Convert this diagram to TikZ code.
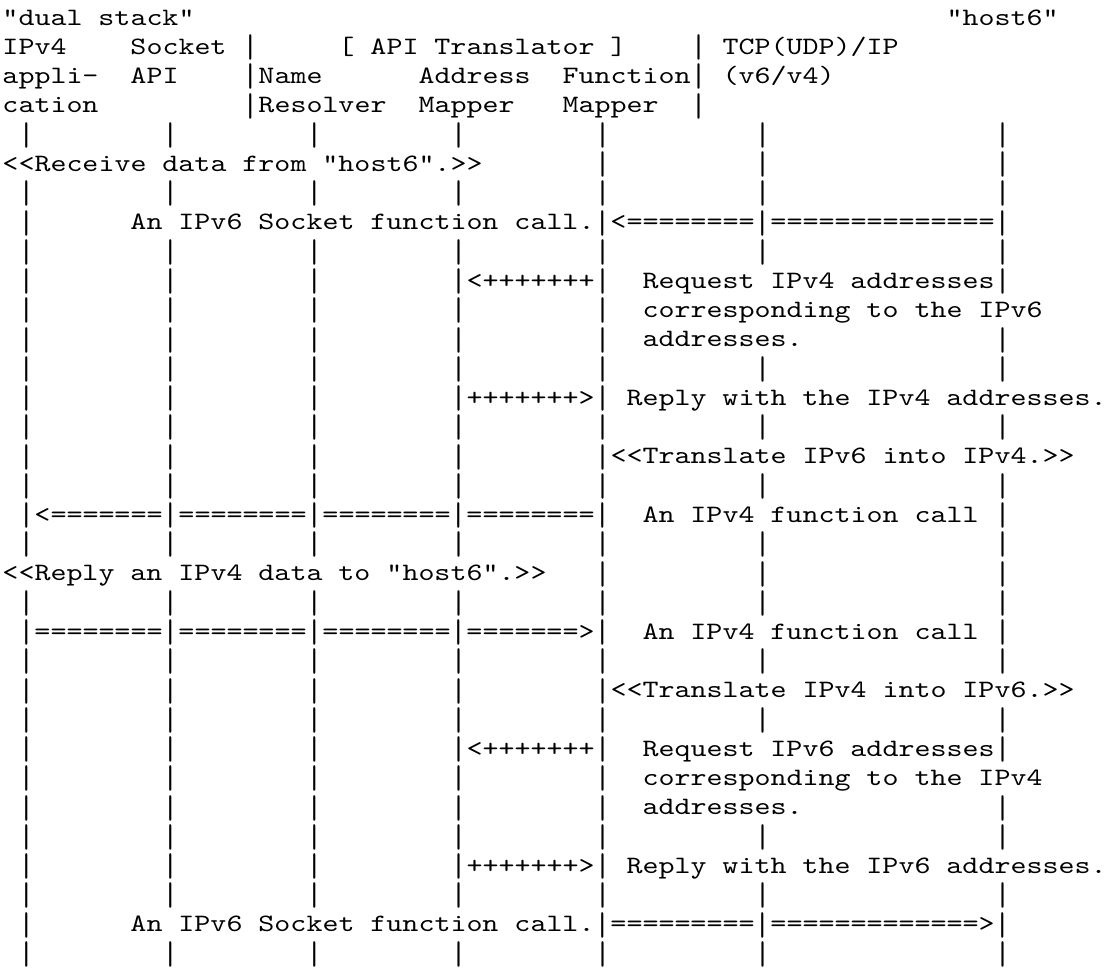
\documentclass[tikz,border=0pt]{standalone}
\usepackage{fontspec}
\usepackage{graphicx}
\newfontfamily\asciifont{lmmono10-regular.otf}[FakeStretch=1.22]
\newlength\cellw
\setlength\cellw{16pt}
\def\stopc{\stopc}
% the "|" glyph, stretched to the height of the reference bar
\newcommand\tallbar{\raisebox{-6pt}{\resizebox*{\width}{25.5pt}{\raisebox{\depth}{|}}}}
\def\chars#1{\ifx#1\stopc\else
  \ifx#1|\makebox[\cellw]{\tallbar}\else\makebox[\cellw]{#1}\fi
  \expandafter\chars\fi}
\tikzset{
  txt/.style={anchor=base west, inner sep=0pt, outer sep=0pt,
    font=\asciifont\fontsize{25}{29.25}\selectfont}
}
% one run of characters, starting at column #2 of row #1
\newcommand\seg[3]{\node[txt] (r#1c#2) at ({2.5+#2*16},{-25-(#1-1)*29.25}) {\chars#3\stopc};}
% lifeline bars of row #1 at the listed columns
\newcommand\barsat[2]{\foreach \cc in {#2}{\seg{#1}{\cc}{|}}}
\newcommand\allbars[1]{\barsat{#1}{1,10,19,28,37,47,62}}
\begin{document}
\begin{tikzpicture}[x=1pt,y=1pt]
\path[fill=white] (0,0) rectangle (1107,-967);
\useasboundingbox (0,0) rectangle (1107,-967);
% header
\seg{1}{0}{"dual~stack"}
\seg{1}{59}{"host6"}
\seg{2}{0}{IPv4}
\seg{2}{8}{Socket}
\seg{2}{15}{|}
\seg{2}{21}{[~API~Translator~]}
\seg{2}{43}{|}
\seg{2}{45}{TCP(UDP)/IP}
\seg{3}{0}{appli-}
\seg{3}{8}{API}
\seg{3}{15}{|Name}
\seg{3}{26}{Address}
\seg{3}{35}{Function|}
\seg{3}{45}{(v6/v4)}
\seg{4}{0}{cation}
\seg{4}{15}{|Resolver}
\seg{4}{26}{Mapper}
\seg{4}{35}{Mapper}
\seg{4}{43}{|}
% body
\allbars{5}
\seg{6}{0}{<<Receive~data~from~"host6".>>}
\barsat{6}{37,47,62}
\allbars{7}
\barsat{8}{1}
\seg{8}{8}{An~IPv6~Socket~function~call.|<========|==============|}
\allbars{9}
\barsat{10}{1,10,19,28}
\seg{10}{29}{<+++++++|}
\seg{10}{40}{Request~IPv4~addresses|}
\barsat{11}{1,10,19,28,37}
\seg{11}{40}{corresponding~to~the~IPv6}
\barsat{12}{1,10,19,28,37,62}
\seg{12}{40}{addresses.}
\allbars{13}
\barsat{14}{1,10,19,28}
\seg{14}{29}{+++++++>|}
\seg{14}{39}{Reply~with~the~IPv4~addresses.}
\allbars{15}
\barsat{16}{1,10,19,28,37}
\seg{16}{38}{<<Translate~IPv6~into~IPv4.>>}
\allbars{17}
\seg{18}{1}{|<=======|========|========|========|}
\seg{18}{40}{An~IPv4~function~call}
\barsat{18}{62}
\allbars{19}
\seg{20}{0}{<<Reply~an~IPv4~data~to~"host6".>>}
\barsat{20}{37,47,62}
\allbars{21}
\seg{22}{1}{|========|========|========|=======>|}
\seg{22}{40}{An~IPv4~function~call}
\barsat{22}{62}
\allbars{23}
\barsat{24}{1,10,19,28,37}
\seg{24}{38}{<<Translate~IPv4~into~IPv6.>>}
\allbars{25}
\barsat{26}{1,10,19,28}
\seg{26}{29}{<+++++++|}
\seg{26}{40}{Request~IPv6~addresses|}
\barsat{27}{1,10,19,28,37}
\seg{27}{40}{corresponding~to~the~IPv4}
\barsat{28}{1,10,19,28,37,62}
\seg{28}{40}{addresses.}
\allbars{29}
\barsat{30}{1,10,19,28}
\seg{30}{29}{+++++++>|}
\seg{30}{39}{Reply~with~the~IPv6~addresses.}
\allbars{31}
\barsat{32}{1}
\seg{32}{8}{An~IPv6~Socket~function~call.|=========|=============>|}
\allbars{33}
\end{tikzpicture}
\end{document}
